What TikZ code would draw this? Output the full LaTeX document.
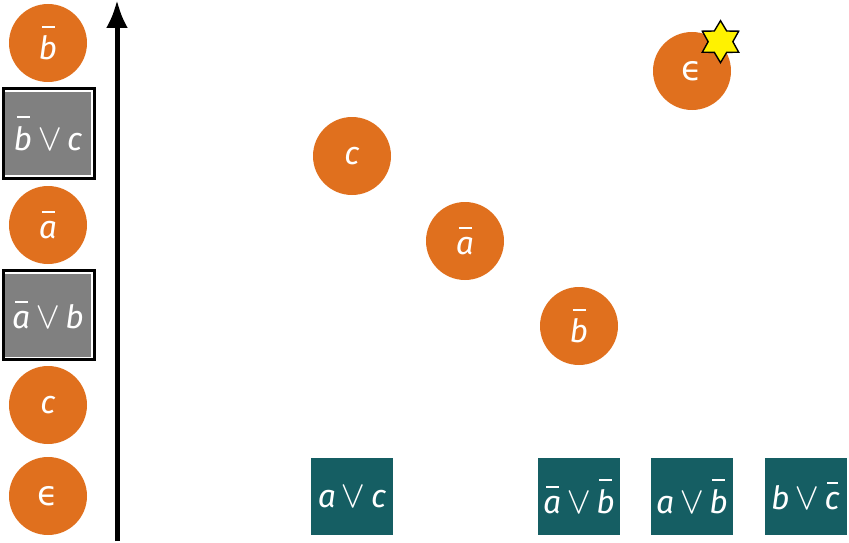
\documentclass[tikz,border=0pt]{standalone}
\usepackage{fontspec}
\setmainfont{Fira Sans}
\newfontfamily\lmm{Latin Modern Math}
\newfontfamily\djv{DejaVu Sans}
\usetikzlibrary{shapes.geometric,arrows.meta}
\definecolor{orng}{RGB}{224,112,30}
\definecolor{teal2}{RGB}{21,94,99}
\definecolor{gry}{RGB}{128,128,128}
\newsavebox\ovbox
\newlength\ovraise
\newcommand\ov[1]{\leavevmode\sbox\ovbox{\itshape #1}\setlength\ovraise{\ht\ovbox}\addtolength\ovraise{0.25em}\hbox{\rlap{\usebox\ovbox}\kern0.17\wd\ovbox\raisebox{\ovraise}{\rule{0.7\wd\ovbox}{0.065em}}\kern0.13\wd\ovbox}}
\newcommand\iv[1]{\textit{#1}}
\newcommand\orr{\kern0.15em{\lmm\fontsize{38}{40}\selectfont ∨}\kern0.15em}
\newcommand\eps{{\djv\fontsize{34}{36}\selectfont ϵ}}
\begin{document}
\begin{tikzpicture}[x=1pt,y=-1pt,
  txt/.style={text=white,font=\fontsize{32}{34}\selectfont},
  lit/.style={txt,circle,fill=orng,minimum size=78pt,inner sep=0pt},
  clause/.style={txt,rectangle,fill=teal2,minimum width=82pt,minimum height=77pt,inner sep=0pt},
  learnt/.style={txt,rectangle,fill=gry,minimum width=86pt,minimum height=83pt,inner sep=0pt},
  frame/.style={draw=black,line width=3pt,minimum width=91pt,minimum height=89pt,inner sep=0pt},
  starshape/.style={star,star points=6,star point ratio=1.7,fill=yellow,draw=black,line width=1.4pt,minimum size=42pt,inner sep=0pt}]
\useasboundingbox (0,0) rectangle (849,543);
% left column
\node[lit] (l1) at (48,496) {\eps};
\node[lit] (l2) at (48,405) {\iv{c}};
\node[frame] (f1) at (48.5,315) {};
\node[learnt] (l3) at (48,315) {\ov{a}\orr\iv{b}};
\node[lit] (l4) at (48,225) {\ov{a}};
\node[frame] (f2) at (48.5,133.5) {};
\node[learnt] (l5) at (48,133.5) {\ov{b}\orr\iv{c}};
\node[lit] (l6) at (48,43) {\ov{b}};
% axis
\coordinate (a0) at (117,541);
\coordinate (a1) at (117,0);
\draw[line width=5pt,-{Latex[length=28pt,width=22pt]}] (a0) -- (a1);
% trail
\node[lit] (m1) at (352,156) {\iv{c}};
\node[lit] (m2) at (465,241) {\ov{a}};
\node[lit] (m3) at (579,326) {\ov{b}};
\node[lit] (m4) at (692,71) {\eps};
\node[starshape] (st) at (720.5,41.7) {};
% clauses
\node[clause] (c1) at (352,496.5) {\iv{a}\orr\iv{c}};
\node[clause] (c2) at (579,496.5) {\ov{a}\orr\ov{b}};
\node[clause] (c3) at (692,496.5) {\iv{a}\orr\ov{b}};
\node[clause] (c4) at (805.5,496.5) {\iv{b}\orr\ov{c}};
\end{tikzpicture}
\end{document}
